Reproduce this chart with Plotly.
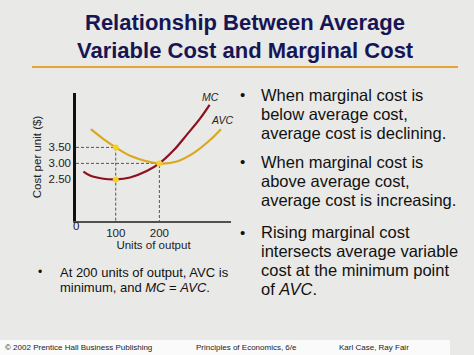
import plotly.graph_objects as go

# ---- data ----
mc_x = [26, 41, 72, 100, 133, 171, 200, 232, 263, 293, 315]
mc_y = [2.74, 2.62, 2.52, 2.50, 2.56, 2.76, 3.00, 3.40, 3.90, 4.40, 4.83]
avc_x = [43, 72, 100, 133, 200, 240, 278, 316, 341]
avc_y = [4.07, 3.76, 3.50, 3.24, 3.00, 3.06, 3.32, 3.73, 4.07]
pts_x = [100, 100, 200]
pts_y = [3.50, 2.50, 3.00]
y_ticks = [2.5, 3.0, 3.5]
y_tick_labels = ["2.50", "3.00", "3.50"]
x_ticks = [100, 200]
x_tick_labels = ["100", "200"]

W, H = 474, 355
FONT = "Liberation Sans, Arial, sans-serif"
X_RANGE = [9, 364]
Y_RANGE = [1.20, 5.20]

fig = go.Figure()

# dashed guides
for gx, gy in [(100, 3.50), (200, 3.00)]:
    fig.add_trace(go.Scatter(x=[X_RANGE[0], gx, gx], y=[gy, gy, Y_RANGE[0]], mode="lines",
                             line=dict(color="#555555", width=1, dash="3px,2px"),
                             hoverinfo="skip", showlegend=False))

fig.add_trace(go.Scatter(x=avc_x, y=avc_y, mode="lines", line=dict(color="#D9A81E", width=2.2, shape="spline", smoothing=1.0),
                         showlegend=False))
fig.add_trace(go.Scatter(x=mc_x, y=mc_y, mode="lines", line=dict(color="#8E1020", width=2.2, shape="spline", smoothing=1.0),
                         showlegend=False))
fig.add_trace(go.Scatter(x=pts_x, y=pts_y, mode="markers", marker=dict(color="#F5D21C", size=6),
                         showlegend=False))

fig.update_xaxes(range=X_RANGE, domain=[76 / W, 231 / W], showgrid=False, zeroline=False,
                 showline=True, linecolor="#505050", linewidth=2,
                 tickvals=x_ticks, ticktext=x_tick_labels, ticks="",
                 tickfont=dict(family=FONT, size=11.5, color="#222"),
                 title=dict(text="Units of output", font=dict(family=FONT, size=11.5, color="#222"), standoff=2))
fig.update_yaxes(range=Y_RANGE, domain=[(H - 221) / H, (H - 93) / H], showgrid=False, zeroline=False,
                 showline=True, linecolor="#111111", linewidth=2.5,
                 tickvals=y_ticks, ticktext=y_tick_labels, ticks="",
                 tickfont=dict(family=FONT, size=11.5, color="#222"),
                 title=dict(text="Cost per unit ($)", font=dict(family=FONT, size=11.5, color="#222"), standoff=5))

def ann(text, x, y, size, color="#111", xanchor="left", italic=False, bold=False):
    fig.add_annotation(text=text, x=x, y=y, xref="paper", yref="paper", showarrow=False,
                       xanchor=xanchor, yanchor="middle",
                       font=dict(family=FONT, size=size, color=color,
                                 style="italic" if italic else "normal",
                                 weight="bold" if bold else "normal"))

def px(xp):
    return xp / W

def py(yp):
    return (H - yp) / H

# 0 label
ann("0", px(76), py(226), 11.5, "#222", xanchor="center")
# curve labels
ann("MC", px(210), py(97), 10.5, "#222", xanchor="center", italic=True)
ann("AVC", px(222), py(120), 10.5, "#222", xanchor="center", italic=True)

# title
ann("Relationship Between Average", px(245), py(22), 22, "#161655", xanchor="center", bold=True)
ann("Variable Cost and Marginal Cost", px(245), py(50), 22, "#161655", xanchor="center", bold=True)
fig.add_shape(type="line", xref="paper", yref="paper", x0=px(32), x1=px(458), y0=py(67), y1=py(67),
              line=dict(color="#E3A536", width=2))

# right bullets
bullets = [
    [(95, "When marginal cost is"), (114, "below average cost,"), (133, "average cost is declining.")],
    [(162, "When marginal cost is"), (181, "above average cost,"), (200, "average cost is increasing.")],
    [(232, "Rising marginal cost"), (251, "intersects average variable"), (270, "cost at the minimum point"),
     (289, "of <i>AVC</i>.")],
]
for block in bullets:
    ann("•", px(243), py(block[0][0]), 15, "#111", xanchor="center")
    for yy, t in block:
        ann(t, px(259), py(yy), 16.5, "#111")

# left bullet
ann("•", px(40), py(272), 12, "#111", xanchor="center")
ann("At 200 units of output, AVC is", px(57.5), py(272), 13, "#111")
ann("minimum, and <i>MC</i> = <i>AVC</i>.", px(57.5), py(287), 13, "#111")

# footer band
fig.add_shape(type="rect", xref="paper", yref="paper", x0=0, x1=px(450), y0=0, y1=py(340),
              fillcolor="#FAFAFA", line=dict(width=0), layer="below")
ann("© 2002 Prentice Hall Business Publishing", px(3), py(347), 8, "#222")
ann("Principles of Economics, 6/e", px(194), py(347), 8, "#222")
ann("Karl Case, Ray Fair", px(337), py(347), 8, "#222")

fig.update_layout(width=W, height=H, margin=dict(l=0, r=0, t=0, b=0),
                  paper_bgcolor="#E9E9E7", plot_bgcolor="rgba(0,0,0,0)",
                  font=dict(family=FONT), showlegend=False)

fig.write_html("out.html", config={"displayModeBar": False},
               post_script="document.body.style.margin='0';document.body.style.overflow='hidden';")
